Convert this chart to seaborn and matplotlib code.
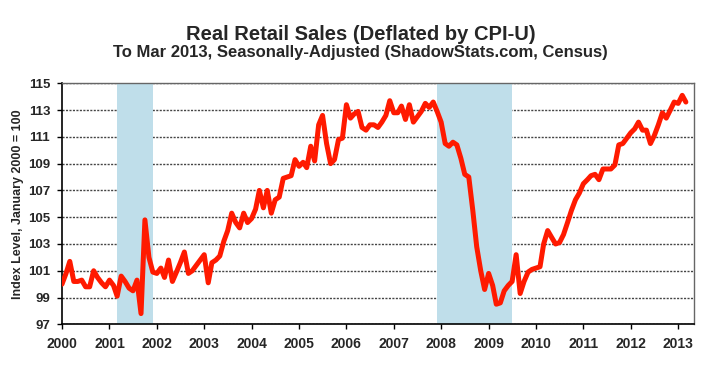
import pandas as pd
import matplotlib.pyplot as plt
import matplotlib.dates as mdates
import seaborn as sns

sns.set_theme(style="whitegrid")
plt.rcParams['font.family'] = ['Liberation Sans', 'DejaVu Sans']

# Real retail sales index (Jan 2000 = 100), monthly
y2000 = [100.0, 100.8, 101.7, 100.2, 100.2, 100.3, 99.8, 99.8, 101.0, 100.5, 100.1, 99.8]
y2001 = [100.3, 99.9, 99.1, 100.6, 100.2, 99.7, 99.5, 100.3, 97.8, 104.8, 102.0, 100.9]
y2002 = [100.8, 101.2, 100.5, 101.8, 100.2, 100.9, 101.6, 102.4, 100.8, 101.0, 101.4, 101.8]
y2003 = [102.2, 100.1, 101.6, 101.8, 102.1, 103.2, 104.0, 105.3, 104.6, 104.2, 105.3, 104.6]
y2004 = [104.9, 105.6, 107.0, 105.7, 107.0, 105.3, 106.3, 106.5, 107.9, 108.0, 108.1, 109.3]
y2005 = [108.8, 109.1, 108.7, 110.3, 109.2, 111.9, 112.6, 110.5, 109.0, 109.3, 110.8, 110.9]
y2006 = [113.4, 112.4, 112.7, 112.9, 111.7, 111.5, 111.9, 111.9, 111.7, 112.1, 112.6, 113.7]
y2007 = [112.8, 112.8, 113.3, 112.3, 113.4, 112.1, 112.5, 112.9, 113.5, 113.2, 113.6, 112.9]
y2008 = [112.1, 110.5, 110.3, 110.6, 110.4, 109.4, 108.2, 108.0, 105.5, 102.8, 101.0, 99.6]
y2009 = [100.8, 99.9, 98.5, 98.6, 99.5, 99.9, 100.2, 102.2, 99.3, 100.2, 100.9, 101.1]
y2010 = [101.2, 101.3, 103.0, 104.0, 103.5, 103.0, 103.1, 103.7, 104.6, 105.5, 106.3, 106.8]
y2011 = [107.5, 107.8, 108.1, 108.2, 107.8, 108.6, 108.6, 108.6, 108.9, 110.4, 110.5, 110.9]
y2012 = [111.3, 111.6, 112.1, 111.5, 111.5, 110.5, 111.1, 111.9, 112.8, 112.4, 113.0, 113.6]
y2013 = [113.5, 114.1, 113.6]

values = (y2000 + y2001 + y2002 + y2003 + y2004 + y2005 + y2006 + y2007
          + y2008 + y2009 + y2010 + y2011 + y2012 + y2013)
months = pd.date_range('2000-01-01', periods=len(values), freq='MS')
df = pd.DataFrame({'Month': months, 'Index': values})

# NBER recessions
recessions = [('2001-03-01', '2001-12-01'), ('2007-12-01', '2009-07-01')]

year_ticks = pd.date_range('2000-01-01', '2013-01-01', freq='YS')
y_ticks = list(range(97, 116, 2))

fig = plt.figure(figsize=(7.21, 3.75), dpi=100)
ax = fig.add_axes([62 / 721, 1 - 324.3 / 375, (694.3 - 62) / 721, (324.3 - 83.3) / 375])

for start, end in recessions:
    ax.axvspan(pd.Timestamp(start), pd.Timestamp(end), color='#bfdeea', zorder=1, lw=0)

sns.lineplot(data=df, x='Month', y='Index', ax=ax, color='#ff1a00', linewidth=3.6, zorder=3)

ax.set_xlim(pd.Timestamp('2000-01-01'), pd.Timestamp('2013-05-05'))
ax.set_ylim(97, 115)
ax.set_xticks(year_ticks)
ax.xaxis.set_major_formatter(mdates.DateFormatter('%Y'))
ax.set_yticks(y_ticks)

ax.set_axisbelow(True)
ax.xaxis.grid(False)
ax.yaxis.grid(True, color='#444444', linestyle=(0, (1.5, 1)), linewidth=1)

for side in ['left', 'bottom']:
    ax.spines[side].set_color('black')
    ax.spines[side].set_linewidth(1.2)
for side in ['top', 'right']:
    ax.spines[side].set_color('#666666')
    ax.spines[side].set_linestyle((0, (1.5, 1)))
    ax.spines[side].set_linewidth(1)

ax.tick_params(axis='both', bottom=True, left=True, direction='out', length=3.5,
               width=1, color='black')
ax.tick_params(axis='x', pad=6, labelsize=10)
ax.tick_params(axis='y', pad=5, labelsize=9.5)
for lbl in ax.get_xticklabels() + ax.get_yticklabels():
    lbl.set_fontweight('bold')

ax.set_xlabel('')
ax.set_ylabel('Index Level, January 2000 = 100', fontsize=9, fontweight='bold', labelpad=3)

fig.text(0.5, 1 - 34 / 375, 'Real Retail Sales (Deflated by CPI-U)', ha='center', va='center',
         fontsize=14.5, fontweight='bold')
fig.text(0.5, 1 - 53 / 375, 'To Mar 2013, Seasonally-Adjusted (ShadowStats.com, Census)',
         ha='center', va='center', fontsize=12, fontweight='bold')

plt.savefig('out.png', dpi=100)
